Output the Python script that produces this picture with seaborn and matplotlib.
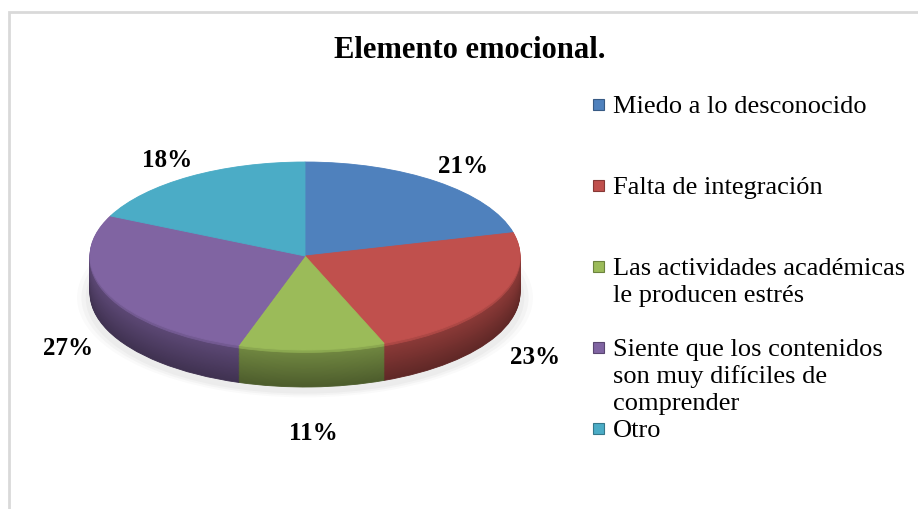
import numpy as np
import matplotlib
matplotlib.use("Agg")
import matplotlib.pyplot as plt
import matplotlib.colors as mcolors
import seaborn as sns

# ---- data ----
categories = [
    "Miedo a lo desconocido",
    "Falta de integración",
    "Las actividades académicas\nle producen estrés",
    "Siente que los contenidos\nson muy difíciles de\ncomprender",
    "Otro",
]
percentages = [21, 23, 11, 27, 18]
pct_labels = ["21%", "23%", "11%", "27%", "18%"]
title = "Elemento emocional."
colors = ["#4F81BD", "#C0504D", "#9BBB59", "#8064A2", "#4BACC6"]

sns.set_theme(style="white")
SERIF = ["Liberation Serif", "DejaVu Serif"]
plt.rcParams["font.family"] = SERIF

W, H = 918, 509
fig = plt.figure(figsize=(W / 100, H / 100), dpi=100)
fig.patch.set_facecolor("white")

# chart border
border = plt.Rectangle((9 / W, -0.05), 1.2, (H - 12) / H + 0.05, transform=fig.transFigure,
                       fill=False, edgecolor="#d9d9d9", linewidth=2)
fig.add_artist(border)

# pie geometry in pixels
cx_px, cy_px = 305, 256
rx_px, ry_px = 215, 94
depth_px = 37
D = depth_px / ry_px

left = (cx_px - rx_px) / W
width = 2 * rx_px / W
top_px = cy_px - ry_px
bot_px = cy_px + ry_px + depth_px
ax = fig.add_axes([left, 1 - bot_px / H, width, (bot_px - top_px) / H])


def shade(c, f):
    r, g, b = mcolors.to_rgb(c)
    return (min(r * f, 1), min(g * f, 1), min(b * f, 1))


# soft shadow
for s, a in [(1.06, 0.04), (1.04, 0.05), (1.02, 0.06)]:
    ax.pie([1], colors=["#808080"], radius=s, center=(0, -D - 0.05),
           wedgeprops=dict(linewidth=0, alpha=a), startangle=90)

# side walls (stacked layers)
N = 45
for k in range(N, 0, -1):
    t = k / N  # 1 at bottom, 0 at top
    f = 0.74 - 0.24 * t
    if k <= 3:
        f = 0.9
    side_cols = [shade(c, f) for c in colors]
    ax.pie(percentages, colors=side_cols, startangle=90, counterclock=False,
           center=(0, -D * t), wedgeprops=dict(linewidth=0.6))
    for w, c in zip(ax.patches[-len(percentages):], side_cols):
        w.set_edgecolor(c)

# top face
wedges, _ = ax.pie(percentages, colors=colors, startangle=90, counterclock=False,
                   center=(0, 0), wedgeprops=dict(linewidth=0.6))
for w, c in zip(wedges, colors):
    w.set_edgecolor(c)

ax.set_aspect("auto")
ax.set_xlim(-1, 1)
ax.set_ylim(-1 - D, 1)
ax.axis("off")

# data labels
for w, lab in zip(wedges, pct_labels):
    ang = np.deg2rad((w.theta1 + w.theta2) / 2)
    x = 1.2 * np.cos(ang)
    if np.sin(ang) >= 0:
        y = 1.2 * np.sin(ang)
    else:
        y = 1.5 * np.sin(ang) - D
    ax.text(x, y, lab, ha="center", va="center", fontsize=18, fontweight="bold",
            color="black", clip_on=False, family=SERIF)

# title
fig.text(470 / W, 1 - 51 / H, title, ha="center", va="center", fontsize=22,
         fontweight="bold", color="black", family=SERIF)

# legend (custom, fixed spacing as in original)
base0, step = 113, 81
for i, (cat, c) in enumerate(zip(categories, colors)):
    by = base0 + i * step
    sq = plt.Rectangle((593 / W, 1 - (by - 3) / H), 11 / W, 11 / H,
                       transform=fig.transFigure, facecolor=c,
                       edgecolor=shade(c, 0.7), linewidth=0.8)
    fig.add_artist(sq)
    for j, line in enumerate(cat.split("\n")):
        fig.text(613 / W, 1 - (by + 27 * j) / H, line, ha="left", va="baseline",
                 fontsize=19, color="black", family=SERIF)

fig.savefig("out.png", dpi=100, facecolor="white")
